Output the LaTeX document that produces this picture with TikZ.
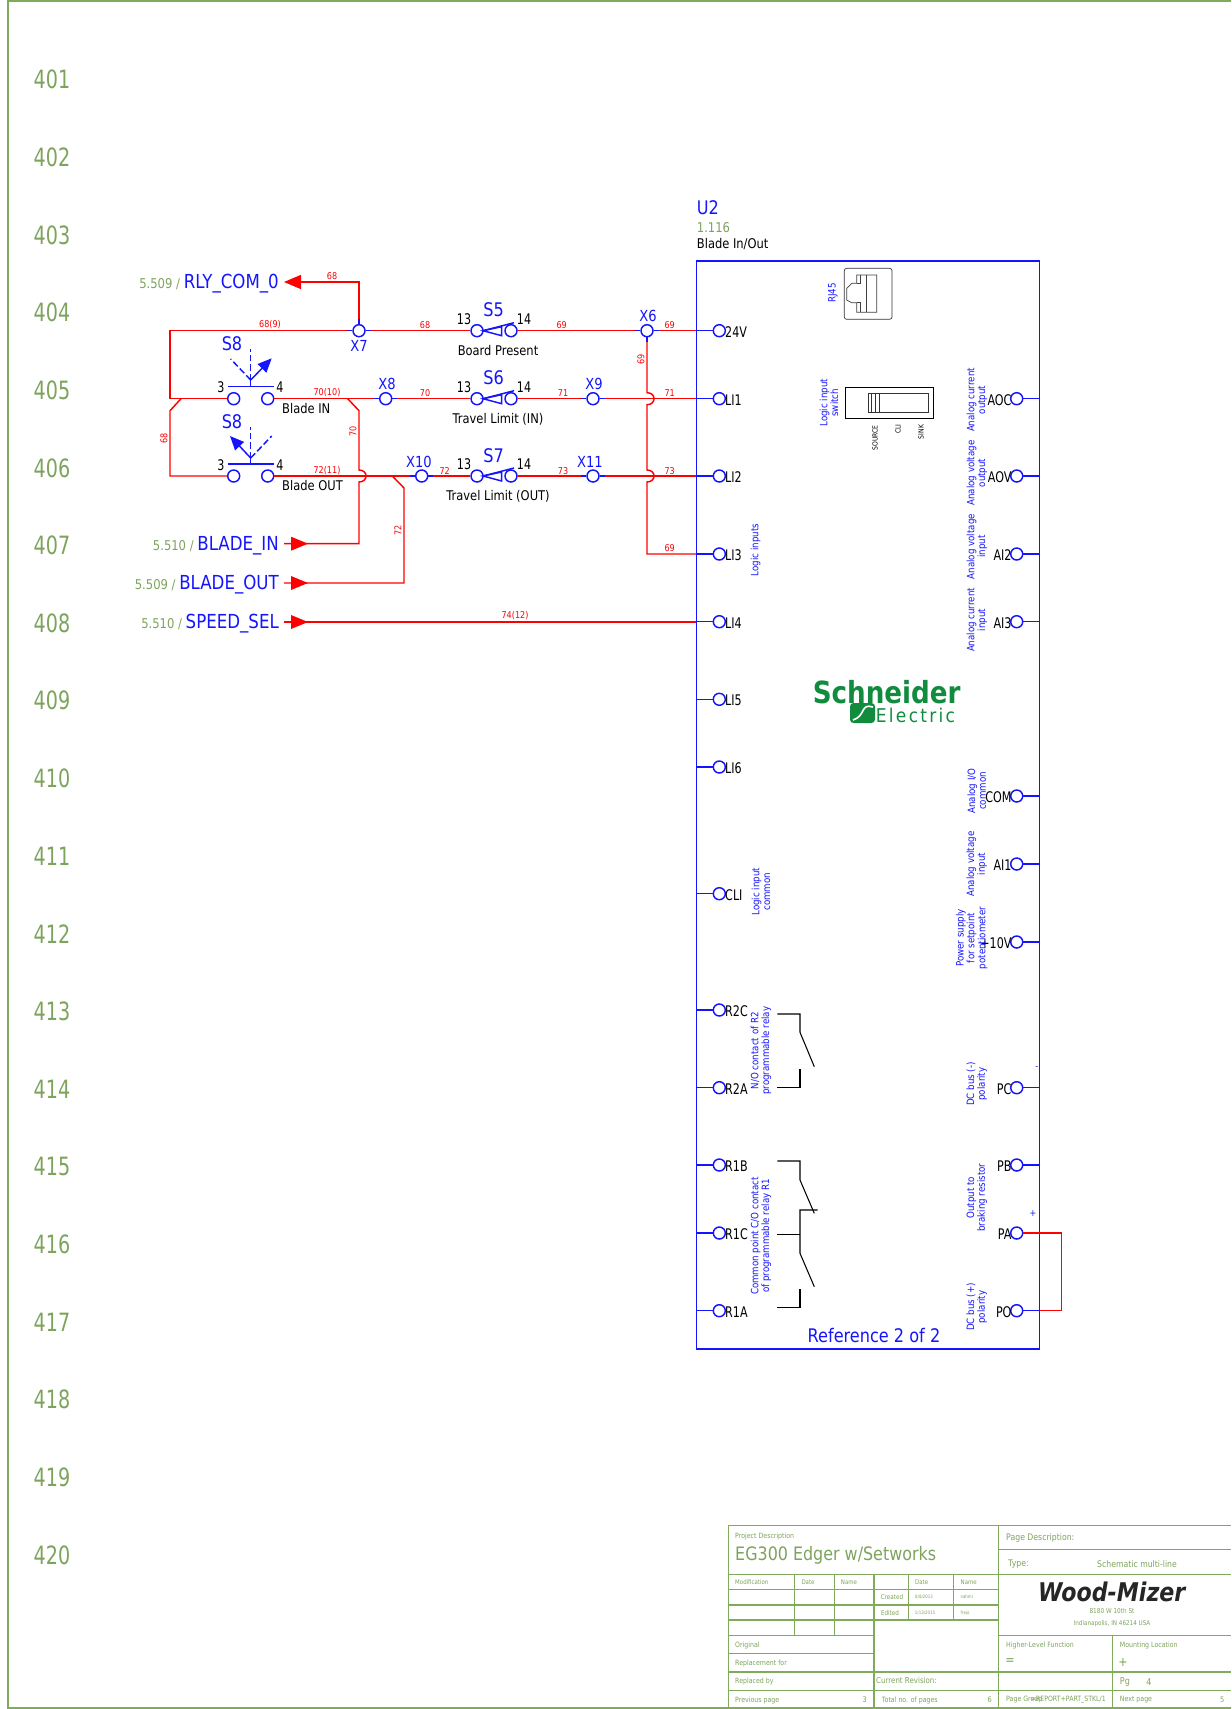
\documentclass[tikz,border=0pt]{standalone}
\usepackage{fontspec}
\setmainfont[FakeStretch=0.86]{DejaVu Sans}
\newfontfamily\pinfont[FakeStretch=0.76]{DejaVu Sans}
\newfontfamily\elecfont[LetterSpace=12,FakeStretch=0.9]{DejaVu Sans}
\usepackage{xcolor}
\usetikzlibrary{calc,arrows.meta}

\definecolor{framegreen}{HTML}{7FAB5B}
\definecolor{txtgreen}{HTML}{7DA35C}
\definecolor{logogreen}{HTML}{118C3E}
\definecolor{wireblue}{HTML}{1414FF}

\newcommand{\fnt}[1]{\fontsize{#1}{#1}\selectfont}

\tikzset{
    wire/.style={draw=red,line width=1.25pt},
    bwire/.style={draw=wireblue,line width=1.25pt},
    dwire/.style={draw=wireblue,line width=1.25pt,dash pattern=on 5.5pt off 2.5pt},
    blk/.style={draw=black,line width=0.9pt},
    tb/.style={draw=framegreen,line width=0.9pt},
    term/.style={circle,draw=wireblue,fill=white,line width=1.25pt,minimum size=0.36cm,inner sep=0pt},
    wlab/.style={text=red,font=\fnt{8},inner sep=0pt},
    xlab/.style={text=wireblue,font=\fnt{13},inner sep=0pt},
    slab/.style={text=wireblue,font=\fnt{16},inner sep=0pt},
    nlab/.style={text=black,font=\fnt{11.4},inner sep=0pt},
    plab/.style={text=black,font=\pinfont\fnt{12.5},inner sep=0pt},
    side/.style={text=wireblue,font=\fontsize{8.6}{9.2}\selectfont,rotate=90,align=center,inner sep=0pt},
    tag/.style={anchor=east,inner sep=0pt,inner xsep=0.15cm,text height=11.7pt,text depth=0pt},
    tbt/.style={text=txtgreen,font=\fnt{6.2},inner sep=0pt},
}

\begin{document}
\begin{tikzpicture}[x=0.03cm,y=-0.03cm]
    \useasboundingbox (0,0) rectangle (1231,1709);

    % Sheet frame
    \draw[framegreen,line width=2pt] (1231,1) -- (8,1) -- (8,1708) -- (1231,1708);

    % Row numbers
    \foreach \n in {401,...,420} {
        \pgfmathsetmacro{\ny}{79.6+(\n-401)*77.65}
        \node[text=txtgreen,font=\pinfont\fnt{21.5},inner sep=0pt] (r\n) at (52,\ny) {\n};
    }

    % Drive box
    \node[draw=wireblue,line width=1.25pt,minimum width=10.29cm,minimum height=32.64cm,inner sep=0pt] (u2) at (868.2,805) {};
    \node[anchor=west,slab,font=\fnt{16}] (u2name) at (696.7,208) {U2};
    \node[anchor=west,text=txtgreen,font=\fnt{11.5},inner sep=0pt] (u2ref) at (696.7,228) {1.116};
    \node[anchor=west,nlab] (u2desc) at (696.7,244) {Blade In/Out};
    \node[text=wireblue,font=\fnt{16},inner sep=0pt] (refnote) at (874,1335) {Reference 2 of 2};

    % Terminals on the wires
    \node[term] (x7) at (359,330.7) {};
    \node[term] (x6) at (647,330.7) {};
    \node[term] (x8) at (385.7,398.7) {};
    \node[term] (x9) at (593,398.7) {};
    \node[term] (x10) at (421.7,476) {};
    \node[term] (x11) at (593,476) {};
    \node[term] (s8a) at (233.7,398.7) {};
    \node[term] (s8b) at (267.7,398.7) {};
    \node[term] (s8c) at (233.7,476) {};
    \node[term] (s8d) at (267.7,476) {};
    \node[xlab] (x7t) at (359,346) {X7};
    \node[xlab] (x6t) at (648,316) {X6};
    \node[xlab] (x8t) at (387,384) {X8};
    \node[xlab] (x9t) at (594,384) {X9};
    \node[xlab] (x10t) at (419,461.7) {X10};
    \node[xlab] (x11t) at (590,461.7) {X11};

    % Switches S5 S6 S7
    \foreach \s/\y/\desc/\dy/\ty in {5/330.7/Board Present/351/310,6/398.7/Travel Limit (IN)/419/378,7/476/Travel Limit (OUT)/496/456} {
        \node[term] (s\s l) at (477,\y) {};
        \node[term] (s\s r) at (511,\y) {};
        \draw[bwire] (483,\y) -- (514,\y-8);
        \draw[bwire] (483,\y) -- (501.7,\y-4) -- (501.7,\y+5) -- cycle;
        \node[slab] (s\s t) at (493.7,\ty) {S\s};
        \node[nlab] (s\s d) at (498,\dy) {\desc};
        \node[plab] (s\s n) at (464,\y-12) {13};
        \node[plab] (s\s m) at (524,\y-12) {14};
    }

    % Off-page tags
    \node[tag] (rly) at (284,282) {\textcolor{txtgreen}{\fnt{11.5}5.509 / }\textcolor{wireblue}{\fnt{16.5}RLY\_COM\_0}};
    \node[tag] (bin) at (284,543.7) {\textcolor{txtgreen}{\fnt{11.5}5.510 / }\textcolor{wireblue}{\fnt{16.5}BLADE\_IN}};
    \node[tag] (bout) at (284,583) {\textcolor{txtgreen}{\fnt{11.5}5.509 / }\textcolor{wireblue}{\fnt{16.5}BLADE\_OUT}};
    \node[tag] (spd) at (284,622) {\textcolor{txtgreen}{\fnt{11.5}5.510 / }\textcolor{wireblue}{\fnt{16.5}SPEED\_SEL}};

    % Pins on the left of the box
    \foreach \p/\y/\txt in {pa/330.7/24V,pb/398.7/LI1,pc/476/LI2,pd/554/LI3,pe/621.7/LI4,pf/699.3/LI5,pg/767/LI6,ph/893.7/CLI,pi/1010/R2C,pj/1087.7/R2A,pk/1165/R1B,pl/1233/R1C,pm/1310.7/R1A} {
        \node[term] (\p) at (719.3,\y) {};
        \node[plab,anchor=west] (\p t) at (725,\y+1) {\txt};
    }

    % Pins on the right of the box
    \foreach \p/\y/\txt in {qa/398.7/AOC,qb/476/AOV,qc/554/AI2,qd/621.7/AI3,qe/796/COM,qf/864/AI1,qg/942/+10V,qh/1087.7/PC,qi/1165/PB,qj/1233/PA,qk/1310.7/PO} {
        \node[term] (\p) at (1016.7,\y) {};
        \node[plab,anchor=east] (\p t) at (1011.7,\y+1) {\txt};
    }

    % Red wiring
    \coordinate (lt) at (170,330.7);
    \coordinate (lm) at (170,398.7);
    \coordinate (lb) at (170,476);
    \draw[wire,-{Triangle[length=0.51cm,width=0.42cm]}] (x7) -- (x7 |- rly) -- (rly.east);
    \draw[wire] (x7) -- (lt) -- (lm) -- (s8a);
    \draw[wire] (181,398.7) -- (170,410.7) -- (lb) -- (s8c);
    \draw[wire] (x7) -- (s5l);
    \draw[wire] (s5r) -- (x6);
    \draw[wire] (x6) -- (x6 -| u2.west);
    \draw[wire] (s8b) -- (x8);
    \draw[wire] (x8) -- (s6l);
    \draw[wire] (s6r) -- (x9);
    \draw[wire] (x9) -- (x9 -| u2.west);
    \draw[wire] (s8d) -- (x10);
    \draw[wire] (x10) -- (s7l);
    \draw[wire] (s7r) -- (x11);
    \draw[wire] (x11) -- (x11 -| u2.west);

    % Wires that hop over the rows
    \draw[wire] (x6) -- (647,392.7) to[out=0,in=0,looseness=2] (647,404.7) -- (647,470) to[out=0,in=0,looseness=2] (647,482) -- (647,554) -- (pd -| u2.west);
    \draw[wire] (347.7,398.7) -- (359,410.7) -- (359,470) to[out=0,in=0,looseness=2] (359,482) -- (359,543.7) -- (bin.east);
    \draw[wire] (392.3,476) -- (404,488) -- (404,583) -- (bout.east);
    \draw[wire] (spd.east) -- (spd.east -| u2.west);
    \draw[wire] (qj) -- (1061.7,1233) -- (1061.7,1310.7) -- (qk -| u2.east);

    % Triangles on the incoming tags
    \foreach \y in {543.7,583,622} {
        \fill[red] (291,\y-7) -- (308,\y) -- (291,\y+7) -- cycle;
    }

    % Blue stubs at the pins
    \foreach \p in {pa,pb,pc,pd,pe,pf,pg,ph,pi,pj,pk,pl,pm} {
        \draw[bwire] (\p -| u2.west) -- (\p);
    }
    \foreach \p in {qa,qb,qc,qd,qe,qf,qg,qh,qi} {
        \draw[bwire] (\p) -- (\p -| u2.east);
    }
    \draw[bwire] (qk) -- (qk -| u2.east);
    \foreach \p in {x7,x6,x8,x9,x10,x11} {
        \draw[bwire] (\p.west) -- ++(-5,0);
        \draw[bwire] (\p.east) -- ++(5,0);
    }
    \draw[bwire] (x7.north) -- ++(0,-5);
    \draw[bwire] (x6.south) -- ++(0,5);

    % Push buttons S8
    \draw[bwire] (227.7,386.3) -- (274,386.3);
    \draw[bwire] (250.7,386.3) -- (250.7,380);
    \draw[dwire] (250.7,380) -- (250.7,349);
    \draw[dwire] (250.7,380) -- (230.7,359);
    \draw[bwire,-{Triangle[length=0.42cm,width=0.36cm]}] (250.7,380) -- (271.7,358.3);
    \draw[bwire] (227.7,464) -- (274,464);
    \draw[bwire] (250.7,464) -- (250.7,458);
    \draw[dwire] (250.7,458) -- (250.7,427);
    \draw[dwire] (250.7,458) -- (271.7,436);
    \draw[bwire,-{Triangle[length=0.42cm,width=0.36cm]}] (250.7,458) -- (230,436);
    \node[slab] (s8t) at (232,344) {S8};
    \node[slab] (s8u) at (232,422) {S8};
    \node[plab] (s8n) at (221,387) {3};
    \node[plab] (s8m) at (280,387) {4};
    \node[plab] (s8o) at (221,465) {3};
    \node[plab] (s8p) at (280,465) {4};
    \node[nlab,anchor=west] (s8d1) at (282,409) {Blade IN};
    \node[nlab,anchor=west] (s8d2) at (282,486) {Blade OUT};

    % Wire numbers
    \node[wlab] (w1) at (332,276) {68};
    \node[wlab] (w2) at (270,325) {68(9)};
    \node[wlab] (w3) at (425,325) {68};
    \node[wlab] (w4) at (561.7,325) {69};
    \node[wlab] (w5) at (669.7,325) {69};
    \node[wlab] (w6) at (327,393) {70(10)};
    \node[wlab] (w7) at (425,393) {70};
    \node[wlab] (w8) at (563,393) {71};
    \node[wlab] (w9) at (669.7,393) {71};
    \node[wlab] (w10) at (327,470.7) {72(11)};
    \node[wlab] (w11) at (444.7,470.7) {72};
    \node[wlab] (w12) at (563,470.7) {73};
    \node[wlab] (w13) at (669.7,470.7) {73};
    \node[wlab] (w14) at (669.7,548) {69};
    \node[wlab] (w15) at (515,616) {74(12)};
    \node[wlab,rotate=90] (w16) at (641,359) {69};
    \node[wlab,rotate=90] (w17) at (353,431.7) {70};
    \node[wlab,rotate=90] (w18) at (398,530) {72};
    \node[wlab,rotate=90] (w19) at (164,438) {68};

    % Notes inside the box
    \node[side] (n1) at (755.7,550) {Logic inputs};
    \node[side] (n2) at (761,891.7) {Logic input\\common};
    \node[side] (n3) at (761,1050.7) {N/O contact of R2\\programmable relay};
    \node[side] (n4) at (761,1236) {Common point C/O contact\\of programmable relay R1};
    \node[side] (n5) at (977,400) {Analog current\\output};
    \node[side] (n6) at (977,473) {Analog voltage\\output};
    \node[side] (n7) at (977,546.7) {Analog voltage\\input};
    \node[side] (n8) at (977,620) {Analog current\\input};
    \node[side] (n9) at (976.7,791) {Analog I/O\\common};
    \node[side] (n10) at (976.7,864) {Analog voltage\\input};
    \node[side] (n11) at (971.7,938) {Power supply\\for setpoint\\potentiometer};
    \node[side] (n12) at (976.7,1084) {DC bus (-)\\polarity};
    \node[side] (n13) at (976.7,1197.7) {Output to\\braking resistor};
    \node[side] (n14) at (976.7,1307) {DC bus (+)\\polarity};
    \node[side] (n15) at (833,293) {RJ45};
    \node[side] (n16) at (829,402.7) {Logic input\\switch};
    \node[text=wireblue,font=\fnt{8},inner sep=0pt] (plus) at (1033,1214) {+};
    \node[text=wireblue,font=\fnt{8},inner sep=0pt] (minus) at (1036.7,1068) {-};

    % RJ45 socket
    \draw[draw=black!80,line width=0.6pt,rounded corners=2pt] (844.3,268.3) rectangle (892,319.3);
    \draw[draw=black!75,line width=0.6pt] (876.7,275) -- (856.7,275) -- (856.7,283.3) -- (851.7,283.3) -- (846.7,288.3) -- (846.7,300) -- (851.7,302.7) -- (856.7,302.7) -- (856.7,312.3) -- (876.7,312.3) -- cycle;
    \draw[draw=black!75,line width=0.6pt] (866,275) -- (866,312.3);
    \draw[draw=black!75,line width=0.6pt] (860,275) -- (860,283.3) -- (856.7,283.3);
    \draw[draw=black!75,line width=0.6pt] (860,312.3) -- (860,302.7) -- (856.7,302.7);

    % Logic input switch
    \draw[draw=black,line width=0.7pt] (845.3,387.3) rectangle (933.7,418.3);
    \draw[draw=black!80,line width=0.6pt] (868.3,393.3) rectangle (928.3,412.7);
    \foreach \x in {871,875,879.7} {
        \draw[draw=black!80,line width=0.6pt] (\x,393.3) -- (\x,412.7);
    }
    \node[text=black,font=\fnt{6},rotate=90,inner sep=0pt] (sw1) at (875,437.7) {SOURCE};
    \node[text=black,font=\fnt{6},rotate=90,inner sep=0pt] (sw2) at (898,429) {CLI};
    \node[text=black,font=\fnt{6},rotate=90,inner sep=0pt] (sw3) at (921,432) {SINK};

    % Relay contacts
    \draw[blk] (777.3,1014) -- (800,1014) -- (800,1032.3) -- (814.3,1066.7);
    \draw[blk] (800,1069) -- (800,1087.3) -- (777.3,1087.3);
    \draw[blk] (777.3,1161) -- (800,1161) -- (800,1180) -- (814.3,1213.3);
    \draw[blk] (817.7,1210) -- (800,1210) -- (800,1253.3) -- (814.3,1286.7);
    \draw[blk] (777.3,1234.3) -- (800,1234.3);
    \draw[blk] (800,1289.3) -- (800,1307.7) -- (777.3,1307.7);

    % Schneider logo
    \node[text=logogreen,font=\fnt{26}\bfseries,inner sep=0pt] (logoa) at (886.7,691.7) {Schneider};
    \node[text=logogreen,font=\fnt{16.2}\elecfont,inner sep=0pt] (logob) at (915.5,715) {Electric};
    \fill[logogreen,rounded corners=3pt] (850,703) rectangle (875,723);
    \draw[white,line width=1.4pt] (873,707) .. controls (860,703) and (866,716) .. (853,720);

    % Title block lines
    \draw[tb] (728.3,1525.7) -- (1231,1525.7);
    \draw[tb] (728.3,1525.7) -- (728.3,1707.7);
    \draw[tb] (998.7,1525.7) -- (998.7,1707.7);
    \draw[tb] (728.3,1574.3) -- (1231,1574.3);
    \draw[tb] (998.7,1549.3) -- (1231,1549.3);
    \foreach \y in {1589.3,1605,1620,1690.3} {
        \draw[tb] (728.3,\y) -- (998.7,\y);
    }
    \foreach \y in {1635.3,1653.7} {
        \draw[tb] (728.3,\y) -- (874,\y);
    }
    \draw[tb] (728.3,1672) -- (1231,1672);
    \draw[tb] (998.7,1635.3) -- (1231,1635.3);
    \draw[tb] (998.7,1690.3) -- (1231,1690.3);
    \draw[tb] (794.7,1574.3) -- (794.7,1635.3);
    \draw[tb] (834.3,1574.3) -- (834.3,1635.3);
    \draw[tb] (874,1574.3) -- (874,1707.7);
    \draw[tb] (908.3,1574.3) -- (908.3,1620);
    \draw[tb] (953.7,1574.3) -- (953.7,1620);
    \draw[tb] (1112.3,1635.3) -- (1112.3,1707.7);

    % Title block text
    \node[tbt,anchor=west] (t1) at (735,1536.3) {Project Description};
    \node[tbt,anchor=west,font=\fnt{15.8}] (t2) at (735,1555.7) {EG300 Edger w/Setworks};
    \node[tbt,anchor=west,font=\fnt{5.4}] (t3) at (735,1582) {Modification};
    \node[tbt,font=\fnt{5.4}] (t4) at (808,1582) {Date};
    \node[tbt,font=\fnt{5.4}] (t5) at (849,1582) {Name};
    \node[tbt,font=\fnt{5.4}] (t6) at (921.7,1582) {Date};
    \node[tbt,font=\fnt{5.4}] (t7) at (968.7,1582) {Name};
    \node[tbt,font=\fnt{5.6}] (t8) at (892,1597.5) {Created};
    \node[tbt,font=\fnt{5.6}] (t9) at (890,1612.7) {Edited};
    \node[tbt,font=\fnt{3.9}] (t10) at (924,1597) {8/8/2013};
    \node[tbt,font=\fnt{3.9}] (t11) at (966.7,1597) {nahmi};
    \node[tbt,font=\fnt{3.9}] (t12) at (925,1613) {1/13/2015};
    \node[tbt,font=\fnt{3.9}] (t13) at (965,1613) {frejo};
    \node[tbt,anchor=west] (t14) at (735,1645) {Original};
    \node[tbt,anchor=west] (t15) at (735,1663) {Replacement for};
    \node[tbt,anchor=west] (t16) at (735,1681.5) {Replaced by};
    \node[tbt,anchor=west] (t17) at (735,1700) {Previous page};
    \node[tbt,font=\fnt{6.5}] (t18) at (864.7,1700) {3};
    \node[tbt,anchor=west,font=\fnt{7}] (t19) at (876,1680) {Current Revision:};
    \node[tbt,anchor=west] (t20) at (881.7,1700) {Total no. of pages};
    \node[tbt,font=\fnt{6.5}] (t21) at (989.7,1700) {6};
    \node[tbt,anchor=west,font=\fnt{7.7}] (t22) at (1006,1537.7) {Page Description:};
    \node[tbt,anchor=west,font=\fnt{7.7}] (t23) at (1008,1563.7) {Type:};
    \node[tbt,font=\fnt{7.7}] (t24) at (1137,1563.7) {Schematic multi-line};
    \node[text=black!85,font=\fnt{22}\bfseries\itshape,inner sep=0pt] (t25) at (1111.7,1591.7) {Wood-Mizer};
    \node[tbt,font=\fnt{5.7}] (t26) at (1112,1611) {8180 W 10th St};
    \node[tbt,font=\fnt{5.6}] (t27) at (1112,1623.3) {Indianapolis, IN 46214 USA};
    \node[tbt,anchor=west] (t28) at (1006,1645) {Higher-Level Function};
    \node[tbt,font=\fnt{11}] (t29) at (1010,1662) {=};
    \node[tbt,anchor=west] (t30) at (1119.7,1645) {Mounting Location};
    \node[tbt,font=\fnt{11}] (t31) at (1123,1662) {+};
    \node[tbt,anchor=west,font=\fnt{8}] (t32) at (1119.7,1681.7) {Pg};
    \node[tbt,font=\fnt{8}] (t33) at (1149,1681.7) {4};
    \node[tbt,anchor=west] (t34) at (1006,1700) {Page Group};
    \node[tbt,anchor=east] (t35) at (1106,1700) {=REPORT+PART\_STKL/1};
    \node[tbt,anchor=west] (t36) at (1119.7,1700) {Next page};
    \node[tbt,font=\fnt{6.5}] (t37) at (1222.3,1700) {5};
\end{tikzpicture}
\end{document}
